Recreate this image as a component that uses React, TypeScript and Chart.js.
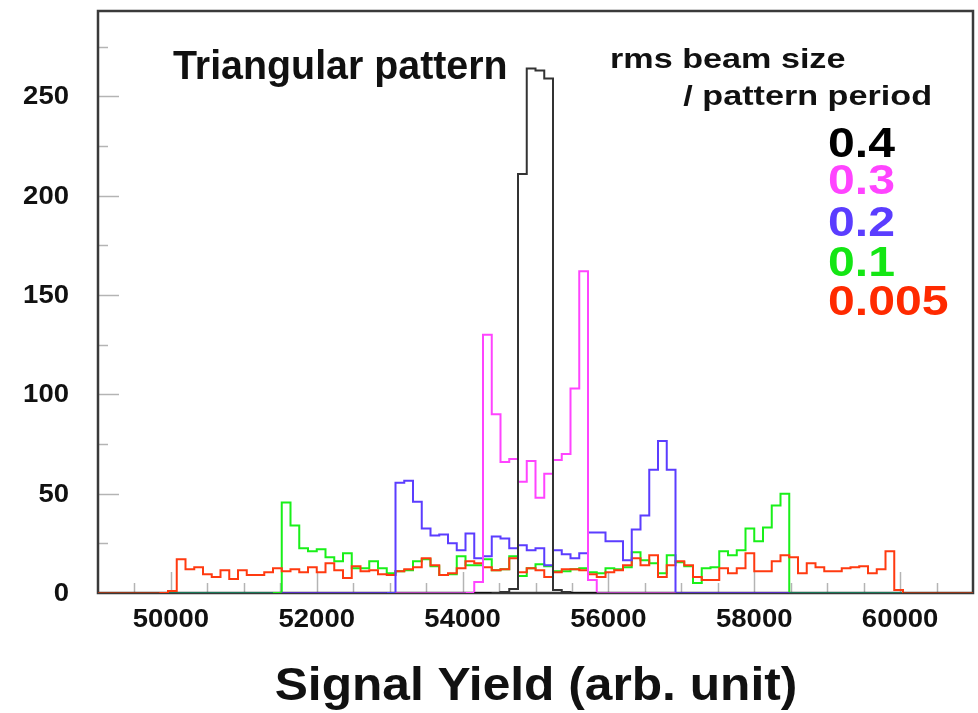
import React, { useEffect, useRef } from "react";
import { Chart, registerables } from "chart.js";

Chart.register(...registerables);

// ---------- data ----------
const BIN_START = 49000;
const BIN_WIDTH = 120;

const X_MIN = 49000;
const X_MAX = 61000;
const Y_MAX = 293;

const X_TICK_LABELS = [50000, 52000, 54000, 56000, 58000, 60000];
const Y_TICK_LABELS = [0, 50, 100, 150, 200, 250];

// red : rms / period = 0.005 (bins 0..99)
const RED_FIRST_BIN = 0;
const RED_VALUES = [
  0, 0, 0, 0, 0, 0, 0, 0, 1, 17,
  12, 13, 9.5, 8, 11.5, 7, 11.5, 9, 9, 10.5,
  12.5, 11, 12, 10.5, 13, 10.5, 15, 11.5, 7.5, 13.5,
  11, 11.5, 9.5, 9, 11, 12, 13, 17.5, 14, 9,
  10, 12.5, 16, 15, 13, 11.5, 12, 17.5, 10.5, 12.5,
  11.5, 8, 10.5, 12, 12, 11.5, 9.5, 8, 10.5, 11.5,
  14, 17.5, 14, 19, 8, 14, 16, 14, 8, 6.5,
  6.5, 12.5, 10, 12.5, 20, 11, 11, 16, 19, 18,
  10, 15, 13, 11, 11, 12.5, 13, 13.5, 10, 12,
  21, 1.5, 0, 0, 0, 0, 0, 0, 0, 0,
];

// green : 0.1 (bins 8..91)
const GREEN_FIRST_BIN = 8;
const GREEN_VALUES = [
  0, 0, 0, 0, 0, 0, 0, 0, 0, 0, 0, 0, 0,
  45.5, 34, 22.5, 21, 22, 18, 16, 20, 12.5,
  12.5, 16, 12.5, 10, 11, 11.5, 16, 17, 13.5, 9,
  9.5, 18.5, 14, 14, 17, 11.5, 12, 18.5, 8.5, 12.5,
  14.5, 13.5, 11, 11, 12, 12.5, 10.5, 10, 12.5, 12,
  13, 20.5, 16.5, 15, 10, 19, 15.5, 13.5, 5, 12.5,
  13, 21, 19, 21.5, 32.5, 26, 33, 44, 50,
  0, 0, 0, 0, 0, 0, 0, 0, 0, 0, 0, 0, 0,
];

// blue : 0.2 (bins 21..78)
const BLUE_FIRST_BIN = 21;
const BLUE_VALUES = [
  0, 0, 0, 0, 0, 0, 0, 0, 0, 0, 0, 0, 0,
  55.5, 56.5, 46, 32.5, 29, 29.5,
  25, 21.5, 30, 17.5, 18.5, 28.5, 27.5, 22.5, 24, 21.5,
  22.5, 14, 21.5, 19.5, 17.5, 20, 30.5, 30.5, 26, 26,
  16.5, 32, 39, 62, 76.5, 62,
  0, 0, 0, 0, 0, 0, 0, 0, 0, 0, 0, 0, 0,
];

// magenta : 0.3 (bins 34..65)
const PINK_FIRST_BIN = 34;
const PINK_VALUES = [
  0, 0, 0, 0, 0, 0, 0, 0, 0,
  5.5, 130, 90, 66, 67.5, 56, 66.5,
  48, 60, 67, 70, 103, 162, 6.5,
  0, 0, 0, 0, 0, 0, 0, 0, 0,
];

// black : 0.4 (bins 43..56)
const BLACK_FIRST_BIN = 43;
const BLACK_VALUES = [0, 0, 0, 0.5, 2, 211, 264, 263, 259, 1.5, 0.5, 0, 0, 0];

const LEGEND_TITLE = ["rms beam size", "/ pattern period"];
const LEGEND_LABELS = ["0.4", "0.3", "0.2", "0.1", "0.005"];
const LEGEND_COLORS = ["#000000", "#ff44ff", "#5b3dff", "#14e614", "#ff2a00"];

// ---------- helpers ----------
function histPoints(first: number, values: number[]) {
  const pts = values.map((v, i) => ({ x: BIN_START + (first + i) * BIN_WIDTH, y: v }));
  pts.push({ x: BIN_START + (first + values.length) * BIN_WIDTH, y: values[values.length - 1] });
  return pts;
}

function histDataset(first: number, values: number[], color: string, zeroColor: string, width = 2) {
  return {
    data: histPoints(first, values),
    borderColor: color,
    borderWidth: width,
    pointRadius: 0,
    stepped: "before" as const,
    fill: false,
    segment: {
      borderColor: (c: any) => (c.p0.parsed.y === 0 && c.p1.parsed.y === 0 ? zeroColor : undefined),
    },
  };
}

const FONT = '"Liberation Sans", Arial, Helvetica, sans-serif';

function drawText(
  ctx: CanvasRenderingContext2D,
  text: string,
  x: number,
  y: number,
  size: number,
  color: string,
  align: CanvasTextAlign,
  baseline: CanvasTextBaseline,
  sx: number
) {
  ctx.save();
  ctx.translate(x, y);
  ctx.scale(sx, 1);
  ctx.font = `bold ${size}px ${FONT}`;
  ctx.fillStyle = color;
  ctx.textAlign = align;
  ctx.textBaseline = baseline;
  ctx.fillText(text, 0, 0);
  ctx.restore();
}

const decorPlugin = {
  id: "decor",
  beforeDatasetsDraw(chart: any) {
    const { ctx, chartArea: a, scales } = chart;
    const x = scales.x;
    const y = scales.y;
    ctx.save();
    // tick marks (inside frame)
    ctx.strokeStyle = "#b4b4b4";
    ctx.lineWidth = 1.5;
    for (let v = X_MIN + 500; v < X_MAX; v += 500) {
      const px = Math.round(x.getPixelForValue(v)) + 0.5;
      const len = v % 2000 === 0 ? 21 : 10;
      ctx.beginPath();
      ctx.moveTo(px, a.bottom);
      ctx.lineTo(px, a.bottom - len);
      ctx.stroke();
    }
    for (let v = 25; v < Y_MAX; v += 25) {
      const py = Math.round(y.getPixelForValue(v)) + 0.5;
      const len = v % 50 === 0 ? 21 : 10;
      ctx.beginPath();
      ctx.moveTo(a.left, py);
      ctx.lineTo(a.left + len, py);
      ctx.stroke();
    }
    // frame
    ctx.strokeStyle = "#3a3a3a";
    ctx.lineWidth = 2.5;
    ctx.strokeRect(a.left, a.top, a.right - a.left, a.bottom - a.top);
    ctx.restore();
  },
  afterDatasetsDraw(chart: any) {
    const { ctx, scales } = chart;
    const x = scales.x;
    const y = scales.y;
    // axis labels
    for (const v of Y_TICK_LABELS) {
      drawText(ctx, String(v), 69, y.getPixelForValue(v) + 1, 25, "#111", "right", "middle", 1.1);
    }
    for (const v of X_TICK_LABELS) {
      drawText(ctx, String(v), x.getPixelForValue(v), 627, 25, "#111", "center", "alphabetic", 1.1);
    }
    drawText(ctx, "Signal Yield (arb. unit)", 536, 700, 46, "#111", "center", "alphabetic", 1.08);
    // annotation
    drawText(ctx, "Triangular pattern", 173, 79, 41, "#111", "left", "alphabetic", 0.96);
    // legend
    drawText(ctx, LEGEND_TITLE[0], 610, 68, 28, "#111", "left", "alphabetic", 1.22);
    drawText(ctx, LEGEND_TITLE[1], 932, 105, 28, "#111", "right", "alphabetic", 1.22);
    const baselines = [157, 194, 236, 276, 315];
    LEGEND_LABELS.forEach((t, i) => {
      drawText(ctx, t, 828, baselines[i], 43, LEGEND_COLORS[i], "left", "alphabetic", 1.12);
    });
  },
};

export default function App() {
  const ref = useRef<HTMLCanvasElement | null>(null);
  useEffect(() => {
    if (!ref.current) return;
    const chart = new Chart(ref.current, {
      type: "line",
      data: {
        datasets: [
          histDataset(BLACK_FIRST_BIN, BLACK_VALUES, "#333333", "#111111", 2),
          histDataset(PINK_FIRST_BIN, PINK_VALUES, "#ff44ff", "#b040b8"),
          histDataset(BLUE_FIRST_BIN, BLUE_VALUES, "#5b3dff", "#5a30c8"),
          histDataset(RED_FIRST_BIN, RED_VALUES, "#ff3a10", "#9a3a1a"),
          histDataset(GREEN_FIRST_BIN, GREEN_VALUES, "#19f019", "#1a7a5a"),
        ] as any,
      },
      options: {
        responsive: false,
        animation: false,
        devicePixelRatio: 1,
        layout: { padding: { left: 98, right: 5, top: 11, bottom: 120 } },
        plugins: { legend: { display: false }, tooltip: { enabled: false } },
        scales: {
          x: { type: "linear", min: X_MIN, max: X_MAX, display: false },
          y: { type: "linear", min: 0, max: Y_MAX, display: false },
        },
      } as any,
      plugins: [decorPlugin],
    });
    return () => chart.destroy();
  }, []);
  return (
    <div style={{ position: "fixed", left: 0, top: 0, width: 978, height: 713, background: "#fff" }}>
      <canvas ref={ref} width={978} height={713} />
    </div>
  );
}
